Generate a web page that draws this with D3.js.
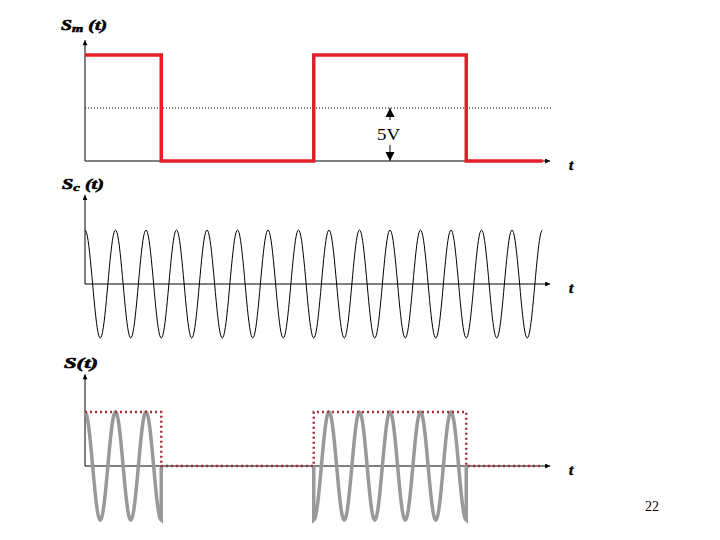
<!DOCTYPE html>
<html>
<head>
<meta charset="utf-8">
<script src="https://cdn.jsdelivr.net/npm/d3@7"></script>
<style>
  body { margin: 0; background: #fff; }
  svg { display: block; }
</style>
</head>
<body>
<div id="chart"></div>
<script>
// message signal: edges (in carrier periods) and level of each piece (volts)
var messageTimes = [0, 2.5, 7.5, 12.5, 15]
var messageLevels = [10, 0, 10, 0]
var halfLevel = 5 // the dotted "5V" line
// carrier: number of cycles shown and amplitude
var carrierCycles = 15
var carrierAmp = 1
var pageNumber = '22'

var width = 720
var height = 540
var serif = '"Liberation Serif", "Times New Roman", serif'

var svg = d3.select('#chart')
  .append('svg')
  .attr('width', width)
  .attr('height', height)

// arrow head marker for axes
svg.append('defs')
  .append('marker')
  .attr('id', 'arrow')
  .attr('viewBox', '0 0 10 10')
  .attr('refX', 10)
  .attr('refY', 5)
  .attr('markerWidth', 7)
  .attr('markerHeight', 5)
  .attr('markerUnits', 'userSpaceOnUse')
  .attr('orient', 'auto')
  .append('path')
  .attr('d', 'M0,0L10,5L0,10Z')
  .attr('fill', '#000')

var xPositionScale = d3.scaleLinear().domain([0, 15]).range([85, 542.5])

var yTop = d3.scaleLinear().domain([0, 10]).range([161, 55])
var yMid = d3.scaleLinear().domain([-1, 1]).range([338, 230])
var yBot = d3.scaleLinear().domain([-1, 1]).range([520, 412])

function drawAxes(yScale, yTopValue) {
  var x0 = xPositionScale(0)
  var y0 = yScale(0)
  svg.append('line')
    .attr('x1', x0).attr('y1', y0)
    .attr('x2', xPositionScale(15.25)).attr('y2', y0)
    .attr('stroke', '#000').attr('stroke-width', 1)
    .attr('marker-end', 'url(#arrow)')
  svg.append('line')
    .attr('x1', x0).attr('y1', y0)
    .attr('x2', x0).attr('y2', yScale(yTopValue))
    .attr('stroke', '#000').attr('stroke-width', 1)
    .attr('marker-end', 'url(#arrow)')
  svg.append('text')
    .text('t')
    .attr('x', 569)
    .attr('y', y0 + 9)
    .attr('font-family', serif)
    .attr('font-weight', 'bold')
    .attr('font-style', 'italic')
    .attr('font-size', 15)
    .attr('stroke', '#000')
    .attr('stroke-width', 0.5)
}

// bold italic label, stretched wide like the slide's font
function drawLabel(x, y, len, main, sub, rest) {
  var t = svg.append('text')
    .attr('x', x)
    .attr('y', y)
    .attr('font-family', serif)
    .attr('font-weight', 'bold')
    .attr('font-style', 'italic')
    .attr('font-size', 15)
    .attr('stroke', '#000')
    .attr('stroke-width', 0.6)
    .attr('textLength', len)
    .attr('lengthAdjust', 'spacingAndGlyphs')
  t.append('tspan').text(main)
  if (sub) {
    t.append('tspan').text(sub).attr('font-size', 11).attr('dy', 2)
    t.append('tspan').text(rest).attr('dy', -2)
  } else {
    t.append('tspan').text(rest)
  }
}

// message as step points
var messagePoints = []
messageLevels.forEach(function(v, i) {
  messagePoints.push([messageTimes[i], v])
  messagePoints.push([messageTimes[i + 1], v])
})

// ---------- top panel: message Sm(t) ----------
drawAxes(yTop, 11.4)
drawLabel(61, 30, 46, 'S', 'm', ' (t)')

svg.append('line')
  .attr('x1', xPositionScale(0)).attr('x2', xPositionScale(15.3))
  .attr('y1', yTop(halfLevel)).attr('y2', yTop(halfLevel))
  .attr('stroke', '#000').attr('stroke-width', 1)
  .attr('stroke-dasharray', '1,2')

var stepLine = d3.line()
  .x(d => xPositionScale(d[0]))
  .y(d => yTop(d[1]))

svg.append('path')
  .datum(messagePoints)
  .attr('d', stepLine)
  .attr('fill', 'none')
  .attr('stroke', '#e3202a')
  .attr('stroke-width', 3.5)

// 5V dimension arrow
var ax = 390
var tri = function(tipY, dir) {
  return 'M' + ax + ',' + tipY + 'L' + (ax - 4.5) + ',' + (tipY + dir * 9) +
    'L' + (ax + 4.5) + ',' + (tipY + dir * 9) + 'Z'
}
svg.append('line')
  .attr('x1', ax).attr('x2', ax)
  .attr('y1', yTop(halfLevel)).attr('y2', 120)
  .attr('stroke', '#000')
svg.append('line')
  .attr('x1', ax).attr('x2', ax)
  .attr('y1', 145).attr('y2', yTop(0))
  .attr('stroke', '#000')
svg.append('path').attr('d', tri(yTop(halfLevel), 1)).attr('fill', '#000')
svg.append('path').attr('d', tri(yTop(0), -1)).attr('fill', '#000')
svg.append('text')
  .text('5V')
  .attr('x', 377)
  .attr('y', 140)
  .attr('font-family', serif)
  .attr('font-size', 16)
  .attr('textLength', 23)
  .attr('lengthAdjust', 'spacingAndGlyphs')

// ---------- middle panel: carrier Sc(t) ----------
drawAxes(yMid, 1.65)
drawLabel(62, 189, 42, 'S', 'c', ' (t)')

var carrierPoints = d3.range(0, carrierCycles + 0.0001, 1 / 40)
  .map(t => [t, carrierAmp * Math.cos(2 * Math.PI * t)])

svg.append('path')
  .datum(carrierPoints)
  .attr('d', d3.line().x(d => xPositionScale(d[0])).y(d => yMid(d[1])))
  .attr('fill', 'none')
  .attr('stroke', '#000')
  .attr('stroke-width', 1)

// ---------- bottom panel: S(t) = Sm(t) * Sc(t) ----------
drawAxes(yBot, 1.7)
drawLabel(64, 368, 34, 'S', null, '(t)')

var lineBot = d3.line().x(d => xPositionScale(d[0])).y(d => yBot(d[1]))

messageLevels.forEach(function(v, i) {
  if (v === 0) return
  var a = messageTimes[i]
  var b = messageTimes[i + 1]
  var pts = d3.range(a, b + 0.0001, 1 / 40)
    .map(t => [t, carrierAmp * Math.cos(2 * Math.PI * t)])
  if (a > 0) pts.unshift([a, 0])
  pts.push([b, 0])
  svg.append('path')
    .datum(pts)
    .attr('d', lineBot)
    .attr('fill', 'none')
    .attr('stroke', '#999')
    .attr('stroke-width', 3.5)
})

var envPoints = messagePoints.map(d => [d[0], d[1] / 10])
svg.append('path')
  .datum(envPoints)
  .attr('d', lineBot)
  .attr('fill', 'none')
  .attr('stroke', '#a8323c')
  .attr('stroke-width', 2.5)
  .attr('stroke-dasharray', '2,3')

// page number
svg.append('text')
  .text(pageNumber)
  .attr('x', 652)
  .attr('y', 511)
  .attr('text-anchor', 'middle')
  .attr('font-family', serif)
  .attr('font-size', 14)
</script>
</body>
</html>
